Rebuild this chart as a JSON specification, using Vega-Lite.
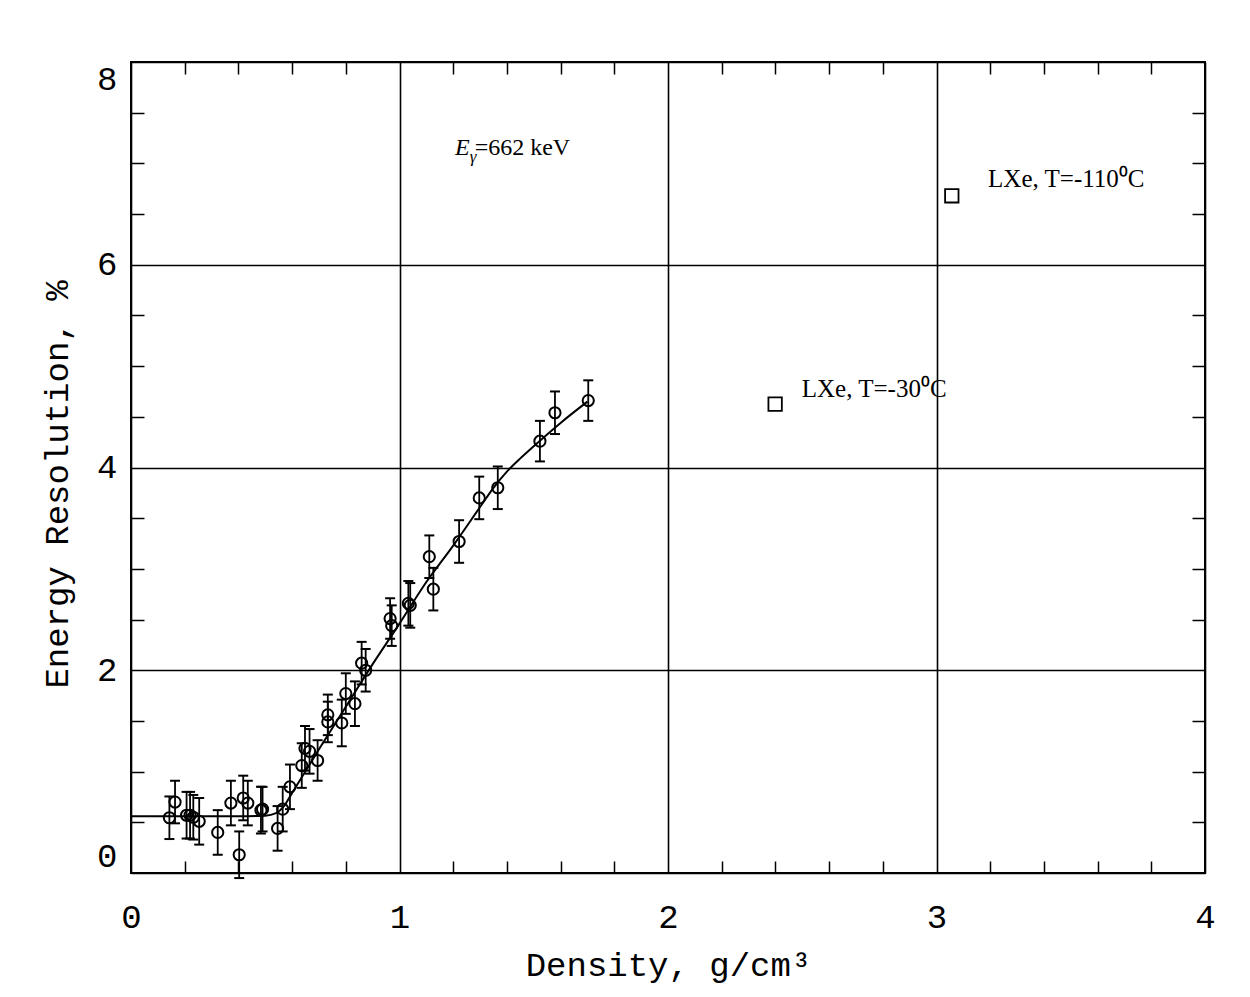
{
  "$schema": "https://vega.github.io/schema/vega-lite/v6.json",
  "width": 1074,
  "height": 811,
  "autosize": {"type": "none"},
  "padding": {"left": 131, "top": 62, "right": 45, "bottom": 124},
  "background": "white",
  "config": {
    "view": {"stroke": "black", "strokeWidth": 2},
    "axis": {"labelColor": "black", "titleColor": "black", "tickColor": "black", "domainColor": "black"}
  },
  "datasets": {
    "points": [
      {"x": 0.143, "y": 0.545, "err": 0.21},
      {"x": 0.164, "y": 0.70, "err": 0.21},
      {"x": 0.207, "y": 0.57, "err": 0.23},
      {"x": 0.22, "y": 0.57, "err": 0.23},
      {"x": 0.232, "y": 0.55, "err": 0.22},
      {"x": 0.254, "y": 0.51, "err": 0.23},
      {"x": 0.323, "y": 0.40, "err": 0.22},
      {"x": 0.372, "y": 0.69, "err": 0.22},
      {"x": 0.403, "y": 0.18, "err": 0.23},
      {"x": 0.418, "y": 0.74, "err": 0.22},
      {"x": 0.435, "y": 0.69, "err": 0.22},
      {"x": 0.484, "y": 0.62, "err": 0.23},
      {"x": 0.49, "y": 0.63, "err": 0.22},
      {"x": 0.546, "y": 0.44, "err": 0.22},
      {"x": 0.565, "y": 0.63, "err": 0.22},
      {"x": 0.592, "y": 0.85, "err": 0.22},
      {"x": 0.636, "y": 1.06, "err": 0.22},
      {"x": 0.648, "y": 1.23, "err": 0.22},
      {"x": 0.665, "y": 1.20, "err": 0.22},
      {"x": 0.695, "y": 1.11, "err": 0.2},
      {"x": 0.733, "y": 1.56, "err": 0.2},
      {"x": 0.733, "y": 1.49, "err": 0.2},
      {"x": 0.785, "y": 1.48, "err": 0.23},
      {"x": 0.80, "y": 1.77, "err": 0.2},
      {"x": 0.834, "y": 1.67, "err": 0.22},
      {"x": 0.859, "y": 2.07, "err": 0.21},
      {"x": 0.874, "y": 2.00, "err": 0.21},
      {"x": 0.965, "y": 2.51, "err": 0.2},
      {"x": 0.971, "y": 2.44, "err": 0.2},
      {"x": 1.033, "y": 2.66, "err": 0.22},
      {"x": 1.04, "y": 2.64, "err": 0.22},
      {"x": 1.111, "y": 3.12, "err": 0.21},
      {"x": 1.126, "y": 2.80, "err": 0.21},
      {"x": 1.222, "y": 3.27, "err": 0.21},
      {"x": 1.297, "y": 3.70, "err": 0.21},
      {"x": 1.366, "y": 3.80, "err": 0.21},
      {"x": 1.523, "y": 4.26, "err": 0.2},
      {"x": 1.579, "y": 4.54, "err": 0.21},
      {"x": 1.703, "y": 4.66, "err": 0.2}
    ],
    "curve": [
      {"x": 0.0, "y": 0.56},
      {"x": 0.1, "y": 0.56},
      {"x": 0.2, "y": 0.56},
      {"x": 0.3, "y": 0.56},
      {"x": 0.4, "y": 0.56},
      {"x": 0.5, "y": 0.565},
      {"x": 0.54, "y": 0.59},
      {"x": 0.57, "y": 0.66},
      {"x": 0.6, "y": 0.79},
      {"x": 0.7, "y": 1.22},
      {"x": 0.8, "y": 1.64},
      {"x": 0.9, "y": 2.06},
      {"x": 1.0, "y": 2.46},
      {"x": 1.1, "y": 2.87},
      {"x": 1.2, "y": 3.23},
      {"x": 1.3, "y": 3.61},
      {"x": 1.35, "y": 3.80},
      {"x": 1.4, "y": 3.96},
      {"x": 1.45, "y": 4.09},
      {"x": 1.5, "y": 4.21},
      {"x": 1.6, "y": 4.44},
      {"x": 1.7, "y": 4.65}
    ],
    "lxe": [
      {"x": 2.399, "y": 4.625, "label": "LXe, T=-30⁰C", "lx": 2.498, "ly": 4.70},
      {"x": 3.057, "y": 6.68, "label": "LXe, T=-110⁰C", "lx": 3.192, "ly": 6.765}
    ]
  },
  "resolve": {"axis": {"x": "independent", "y": "independent"}},
  "layer": [
    {
      "data": {"name": "curve"},
      "mark": {"type": "line", "interpolate": "monotone", "color": "black", "strokeWidth": 2},
      "encoding": {
        "x": {
          "field": "x", "type": "quantitative",
          "scale": {"domain": [0, 4], "nice": false, "zero": false},
          "axis": {
            "orient": "bottom", "values": [0, 1, 2, 3, 4], "grid": true, "gridColor": "black", "gridWidth": 1.6, "gridOpacity": 1,
            "ticks": false, "domain": false, "labelFont": "Liberation Mono", "labelFontSize": 34, "labelPadding": 27,
            "labelFlush": false, "labelOverlap": false,
            "title": "Density, g/cm³", "titleFont": "Liberation Mono", "titleFontSize": 34, "titleFontWeight": "normal",
            "titleY": 102, "titleBaseline": "alphabetic", "titleAnchor": "middle"
          }
        },
        "y": {
          "field": "y", "type": "quantitative",
          "scale": {"domain": [0, 8], "nice": false, "zero": false},
          "axis": {
            "orient": "left", "values": [0, 2, 4, 6, 8], "grid": true, "gridColor": "black", "gridWidth": 1.6, "gridOpacity": 1,
            "ticks": false, "domain": false, "labelFont": "Liberation Mono", "labelFontSize": 34, "labelPadding": 14,
            "labelFlush": true, "labelOverlap": false,
            "title": "Energy Resolution, %", "titleFont": "Liberation Mono", "titleFontSize": 34, "titleFontWeight": "normal",
            "titleAngle": -90, "titleX": -64, "titleY": 422, "titleAlign": "center", "titleBaseline": "alphabetic"
          }
        }
      }
    },
    {
      "data": {"name": "lxe"},
      "mark": {"type": "point", "shape": "square", "size": 180, "filled": false, "color": "black", "strokeWidth": 1.8, "opacity": 1},
      "encoding": {
        "x": {
          "field": "x", "type": "quantitative",
          "axis": {
            "orient": "bottom", "offset": -12, "tickSize": 12, "tickWidth": 1.5,
            "values": [0.2, 0.4, 0.6, 0.8, 1.2, 1.4, 1.6, 1.8, 2.2, 2.4, 2.6, 2.8, 3.2, 3.4, 3.6, 3.8],
            "labels": false, "domain": false, "grid": false, "title": null
          }
        },
        "y": {
          "field": "y", "type": "quantitative",
          "axis": {
            "orient": "left", "offset": -13, "tickSize": 13, "tickWidth": 1.5,
            "values": [0.5, 1, 1.5, 2.5, 3, 3.5, 4.5, 5, 5.5, 6.5, 7, 7.5],
            "labels": false, "domain": false, "grid": false, "title": null
          }
        }
      }
    },
    {
      "data": {"name": "points"},
      "mark": {"type": "errorbar", "color": "black", "thickness": 1.8, "rule": {"color": "black", "strokeWidth": 1.8, "opacity": 1}, "ticks": {"size": 10, "thickness": 2, "color": "black", "opacity": 1}},
      "encoding": {
        "x": {"field": "x", "type": "quantitative", "axis": null},
        "y": {"field": "y", "type": "quantitative", "axis": null},
        "yError": {"field": "err"}
      }
    },
    {
      "data": {"name": "points"},
      "mark": {"type": "point", "shape": "circle", "size": 125, "filled": false, "color": "black", "strokeWidth": 2, "opacity": 1},
      "encoding": {
        "x": {
          "field": "x", "type": "quantitative",
          "axis": {
            "orient": "top", "offset": -12, "tickSize": 12, "tickWidth": 1.5,
            "values": [0.2, 0.4, 0.6, 0.8, 1.2, 1.4, 1.6, 1.8, 2.2, 2.4, 2.6, 2.8, 3.2, 3.4, 3.6, 3.8],
            "labels": false, "domain": false, "grid": false, "title": null
          }
        },
        "y": {
          "field": "y", "type": "quantitative",
          "axis": {
            "orient": "right", "offset": -13, "tickSize": 13, "tickWidth": 1.5,
            "values": [0.5, 1, 1.5, 2.5, 3, 3.5, 4.5, 5, 5.5, 6.5, 7, 7.5],
            "labels": false, "domain": false, "grid": false, "title": null
          }
        }
      }
    },
    {
      "data": {"name": "lxe"},
      "mark": {"type": "text", "font": "Liberation Serif", "fontSize": 25, "align": "left", "baseline": "alphabetic", "color": "black"},
      "encoding": {
        "x": {"field": "lx", "type": "quantitative", "axis": null},
        "y": {"field": "ly", "type": "quantitative", "axis": null},
        "text": {"field": "label"}
      }
    },
    {
      "data": {"values": [{"x": 1.207, "y": 7.08, "t": "E"}]},
      "mark": {"type": "text", "font": "Liberation Serif", "fontSize": 24, "fontStyle": "italic", "align": "left", "baseline": "alphabetic", "color": "black"},
      "encoding": {
        "x": {"field": "x", "type": "quantitative", "axis": null},
        "y": {"field": "y", "type": "quantitative", "axis": null},
        "text": {"field": "t"}
      }
    },
    {
      "data": {"values": [{"x": 1.262, "y": 7.01, "t": "γ"}]},
      "mark": {"type": "text", "font": "Liberation Serif", "fontSize": 17, "fontStyle": "italic", "align": "left", "baseline": "alphabetic", "color": "black"},
      "encoding": {
        "x": {"field": "x", "type": "quantitative", "axis": null},
        "y": {"field": "y", "type": "quantitative", "axis": null},
        "text": {"field": "t"}
      }
    },
    {
      "data": {"values": [{"x": 1.28, "y": 7.08, "t": "=662 keV"}]},
      "mark": {"type": "text", "font": "Liberation Serif", "fontSize": 24, "align": "left", "baseline": "alphabetic", "color": "black"},
      "encoding": {
        "x": {"field": "x", "type": "quantitative", "axis": null},
        "y": {"field": "y", "type": "quantitative", "axis": null},
        "text": {"field": "t"}
      }
    }
  ]
}
